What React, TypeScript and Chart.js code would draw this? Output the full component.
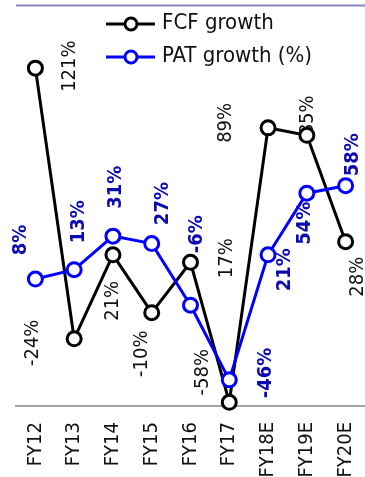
import React, { useEffect, useRef } from "react";
import { Chart, registerables } from "chart.js";

Chart.register(...registerables);

const categories = ["FY12", "FY13", "FY14", "FY15", "FY16", "FY17", "FY18E", "FY19E", "FY20E"];
const fcfGrowth = [121, -24, 21, -10, 17, -58, 89, 85, 28];
const patGrowth = [8, 13, 31, 27, -6, -46, 21, 54, 58];
const seriesNames = ["FCF growth", "PAT growth (%)"];

const FONT = '"Liberation Sans Narrow", "DejaVu Sans Condensed", Arial, sans-serif';

// label placement (pixel offsets from each point, manual like the source)
const FCF_LABEL_OFFSETS: [number, number][] = [
  [34, -2], [-41, 4], [0, 46], [-10, 41], [36, -4], [-26, -30], [-42, -5], [1, -20], [12, 35],
];
const PAT_LABEL_OFFSETS: [number, number][] = [
  [-15, -39], [5, -48], [3, -49], [11, -40], [6, -71], [37, -7], [17, 15], [-2, 30], [7, -31],
];

const decorPlugin = {
  id: "decor",
  beforeDatasetsDraw(chart: any) {
    const ctx = chart.ctx;
    const sets = [
      { idx: 0, offs: FCF_LABEL_OFFSETS, color: "#111111", weight: "normal" },
      { idx: 1, offs: PAT_LABEL_OFFSETS, color: "#0b0bb0", weight: "bold" },
    ];
    sets.forEach((s) => {
      const meta = chart.getDatasetMeta(s.idx);
      const data = chart.data.datasets[s.idx].data as number[];
      meta.data.forEach((pt: any, i: number) => {
        const [dx, dy] = s.offs[i];
        ctx.save();
        ctx.translate(pt.x + dx, pt.y + dy);
        ctx.rotate(-Math.PI / 2);
        ctx.font = `${s.weight} 20px ${FONT}`;
        ctx.fillStyle = s.color;
        ctx.textAlign = "center";
        ctx.textBaseline = "middle";
        ctx.fillText(`${data[i]}%`, 0, 0);
        ctx.restore();
      });
    });
  },
  afterDraw(chart: any) {
    const ctx = chart.ctx;
    // top rule
    ctx.save();
    ctx.strokeStyle = "#8a87b8";
    ctx.lineWidth = 2;
    ctx.beginPath();
    ctx.moveTo(16, 5.5);
    ctx.lineTo(chart.width, 5.5);
    ctx.stroke();
    ctx.restore();
    // legend
    const rows = [
      { name: seriesNames[0], color: "#000000", y: 24 },
      { name: seriesNames[1], color: "#0000ff", y: 57 },
    ];
    rows.forEach((r) => {
      ctx.save();
      ctx.strokeStyle = r.color;
      ctx.lineWidth = 3;
      ctx.beginPath();
      ctx.moveTo(106, r.y);
      ctx.lineTo(155, r.y);
      ctx.stroke();
      ctx.beginPath();
      ctx.arc(131, r.y, 6, 0, Math.PI * 2);
      ctx.fillStyle = "#ffffff";
      ctx.fill();
      ctx.stroke();
      ctx.fillStyle = "#111111";
      ctx.font = `22px ${FONT}`;
      ctx.textAlign = "left";
      ctx.textBaseline = "middle";
      ctx.fillText(r.name, 162, r.y - 1);
      ctx.restore();
    });
  },
};

export default function App() {
  const ref = useRef<HTMLCanvasElement>(null);
  useEffect(() => {
    document.body.style.margin = "0";
    const chart = new Chart(ref.current!, {
      type: "line",
      data: {
        labels: categories,
        datasets: [
          {
            label: seriesNames[0],
            data: fcfGrowth,
            borderColor: "#000000",
            borderWidth: 3,
            pointRadius: 7,
            pointBorderWidth: 3,
            pointBackgroundColor: "#ffffff",
            pointBorderColor: "#000000",
            tension: 0,
            clip: false,
            order: 2,
          } as any,
          {
            label: seriesNames[1],
            data: patGrowth,
            borderColor: "#0000ff",
            borderWidth: 3,
            pointRadius: 7,
            pointBorderWidth: 3,
            pointBackgroundColor: "#ffffff",
            pointBorderColor: "#0000ff",
            tension: 0,
            clip: false,
            order: 1,
          } as any,
        ],
      },
      options: {
        animation: false,
        responsive: false,
        maintainAspectRatio: false,
        layout: { autoPadding: false, padding: { left: 16, right: 0, top: 14, bottom: 0 } },
        plugins: { legend: { display: false }, tooltip: { enabled: false } },
        scales: {
          x: {
            offset: true,
            grid: { display: false, drawTicks: false },
            border: { display: true, color: "#a3a3a3", width: 2 },
            ticks: {
              minRotation: 90,
              maxRotation: 90,
              autoSkip: false,
              padding: 16,
              color: "#111111",
              font: { family: FONT, size: 20 },
            },
            afterFit: (scale: any) => {
              scale.height = 71;
              scale.paddingLeft = 0;
              scale.paddingRight = 0;
            },
          },
          y: { display: false, min: -60, max: 150 },
        },
      },
      plugins: [decorPlugin],
    });
    return () => chart.destroy();
  }, []);
  return (
    <div style={{ width: 365, height: 477 }}>
      <canvas ref={ref} width={365} height={477} style={{ display: "block" }} />
    </div>
  );
}
